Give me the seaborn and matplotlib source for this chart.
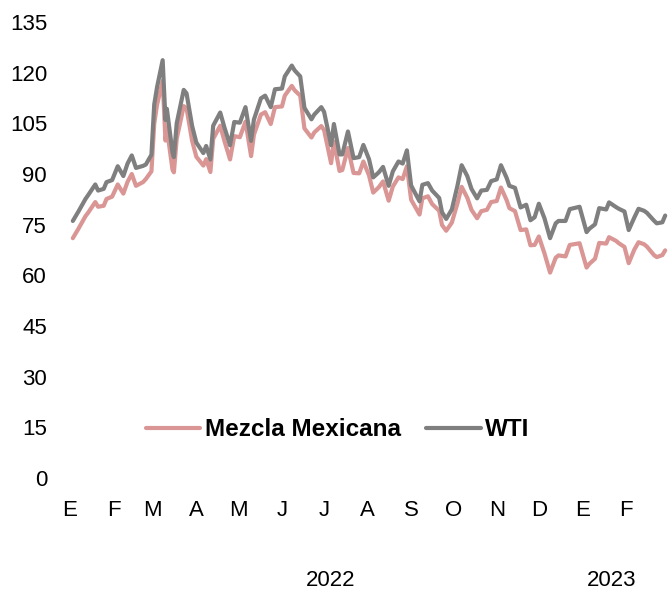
import pandas as pd
import numpy as np
import seaborn as sns
import matplotlib.pyplot as plt

# precios del petroleo, dolares por barril
fechas = [
    "2022-01-03", "2022-01-07", "2022-01-12", "2022-01-14", "2022-01-19", "2022-01-21", "2022-01-25",
    "2022-01-27", "2022-01-31", "2022-02-04", "2022-02-08", "2022-02-11", "2022-02-14", "2022-02-17",
    "2022-02-22", "2022-02-24", "2022-02-28", "2022-03-02", "2022-03-04", "2022-03-08", "2022-03-10",
    "2022-03-11", "2022-03-15", "2022-03-16", "2022-03-18", "2022-03-23", "2022-03-25", "2022-03-29",
    "2022-04-01", "2022-04-06", "2022-04-08", "2022-04-11", "2022-04-13", "2022-04-18", "2022-04-21",
    "2022-04-25", "2022-04-28", "2022-05-02", "2022-05-06", "2022-05-10", "2022-05-12", "2022-05-17",
    "2022-05-20", "2022-05-24", "2022-05-27", "2022-06-01", "2022-06-03", "2022-06-08", "2022-06-10",
    "2022-06-14", "2022-06-17", "2022-06-22", "2022-06-24", "2022-06-29", "2022-07-01", "2022-07-06",
    "2022-07-08", "2022-07-12", "2022-07-14", "2022-07-18", "2022-07-22", "2022-07-26", "2022-07-29",
    "2022-08-02", "2022-08-05", "2022-08-09", "2022-08-12", "2022-08-16", "2022-08-19", "2022-08-23",
    "2022-08-26", "2022-08-29", "2022-09-01", "2022-09-07", "2022-09-09", "2022-09-13", "2022-09-16",
    "2022-09-21", "2022-09-23", "2022-09-26", "2022-09-30", "2022-10-04", "2022-10-07", "2022-10-11",
    "2022-10-14", "2022-10-18", "2022-10-21", "2022-10-25", "2022-10-28", "2022-11-01", "2022-11-04",
    "2022-11-08", "2022-11-10", "2022-11-14", "2022-11-18", "2022-11-22", "2022-11-25", "2022-11-28",
    "2022-12-01", "2022-12-05", "2022-12-09", "2022-12-13", "2022-12-15", "2022-12-20", "2022-12-23",
    "2022-12-30", "2023-01-04", "2023-01-06", "2023-01-10", "2023-01-13", "2023-01-18", "2023-01-20",
    "2023-01-25", "2023-01-27", "2023-01-31", "2023-02-03", "2023-02-07", "2023-02-10", "2023-02-14",
    "2023-02-16", "2023-02-21", "2023-02-23", "2023-02-27", "2023-03-01",
]

wti = [
    76.1, 78.9, 82.6, 83.8, 86.9, 85.1, 85.6, 87.6, 88.2, 92.3, 89.4, 93.1, 95.5, 91.8,
    92.4, 92.8, 95.7, 110.6, 115.7, 123.7, 106.0, 109.3, 96.4, 95.0, 105.0, 114.9, 113.9, 104.2,
    99.3, 96.2, 98.3, 94.3, 104.3, 108.2, 103.8, 98.5, 105.4, 105.2, 109.8, 99.8, 106.1, 112.4,
    113.2, 109.8, 115.1, 115.3, 118.9, 122.1, 120.7, 118.9, 109.6, 106.2, 107.6, 109.8, 108.4, 98.5,
    104.8, 95.8, 95.8, 102.6, 94.7, 95.0, 98.6, 94.4, 89.0, 90.5, 92.1, 86.5, 90.8, 93.7,
    93.1, 97.0, 86.6, 81.9, 86.8, 87.3, 85.1, 82.9, 78.7, 76.7, 79.5, 86.5, 92.6, 89.4,
    85.6, 82.8, 85.1, 85.3, 87.9, 88.4, 92.6, 88.9, 86.5, 85.9, 80.1, 80.9, 76.3, 77.2,
    81.2, 76.9, 71.0, 75.4, 76.1, 76.1, 79.6, 80.3, 72.8, 73.8, 75.1, 79.9, 79.5, 81.6,
    80.2, 79.7, 78.9, 73.4, 77.1, 79.7, 79.1, 78.5, 76.2, 75.4, 75.7, 77.7,
]

mezcla = [
    71.0, 73.8, 77.5, 78.6, 81.7, 80.3, 80.6, 82.6, 83.3, 86.9, 84.2, 87.7, 90.0, 86.5,
    87.6, 88.5, 90.8, 104.9, 110.5, 117.6, 99.9, 103.5, 91.3, 90.5, 100.4, 110.1, 109.5, 99.8,
    95.1, 92.5, 94.4, 90.6, 100.4, 104.3, 99.8, 94.3, 101.2, 100.9, 105.5, 95.3, 101.6, 107.6,
    108.3, 104.8, 109.8, 110.0, 113.2, 116.1, 114.8, 113.2, 103.5, 100.8, 102.3, 104.2, 103.0, 93.2,
    99.6, 90.9, 91.2, 97.7, 90.3, 90.2, 93.7, 89.6, 84.5, 86.1, 87.8, 82.1, 86.3, 89.0,
    88.5, 92.3, 82.4, 78.0, 82.8, 83.4, 81.1, 79.1, 74.9, 73.2, 75.6, 81.3, 86.2, 83.0,
    79.4, 76.9, 79.0, 79.4, 81.7, 82.0, 86.0, 82.3, 79.9, 79.0, 73.4, 73.6, 68.9, 69.0,
    71.5, 66.5, 60.8, 65.2, 65.9, 65.6, 69.0, 69.5, 62.3, 63.4, 64.9, 69.6, 69.4, 71.3,
    70.2, 69.5, 68.4, 63.6, 67.6, 69.8, 69.2, 68.5, 66.0, 65.4, 66.0, 67.4,
]

series = ["Mezcla Mexicana", "WTI"]
colores = ["#d99694", "#7f7f7f"]
meses = ["E", "F", "M", "A", "M", "J", "J", "A", "S", "O", "N", "D", "E", "F"]

df = pd.DataFrame({
    "fecha": pd.to_datetime(fechas * 2),
    "precio": mezcla + wti,
    "serie": [series[0]] * len(fechas) + [series[1]] * len(fechas),
})

sns.set_style("white")
plt.rcParams["font.family"] = ["Liberation Sans", "DejaVu Sans"]
plt.rcParams["text.color"] = "black"
plt.rcParams["xtick.color"] = "black"
plt.rcParams["ytick.color"] = "black"

fig = plt.figure(figsize=(6.7, 5.92), dpi=100)
ax = fig.add_axes([0.1045, 0.1926, 0.8925, 0.7702])

sns.lineplot(data=df, x="fecha", y="precio", hue="serie", palette=dict(zip(series, colores)),
             linewidth=3.0, ax=ax)

ax.set_ylim(0, 135)
ax.set_yticks(np.arange(0, 136, 15))
ax.set_xlim(pd.Timestamp("2022-01-01"), pd.Timestamp("2023-03-03"))
ticks = pd.date_range("2022-01-01", "2023-02-01", freq="MS")
ax.set_xticks(ticks)
ax.set_xticklabels(meses)
ax.tick_params(axis="both", length=0, labelsize=16, labelcolor="black")
ax.tick_params(axis="x", pad=16)
ax.tick_params(axis="y", pad=16.5)
ax.set_xlabel("")
ax.set_ylabel("")
for s in ax.spines.values():
    s.set_visible(False)

ax.legend(loc="center", bbox_to_anchor=(0.504, 0.274), bbox_transform=fig.transFigure,
          ncol=2, frameon=False, handlelength=2.26, columnspacing=1.0, handletextpad=0.2,
          prop={"weight": "bold", "size": 17.5})

fig.text(0.493, 0.02, "2022", ha="center", va="center", fontsize=16)
fig.text(0.913, 0.02, "2023", ha="center", va="center", fontsize=16)

fig.savefig("out.png", dpi=100)
